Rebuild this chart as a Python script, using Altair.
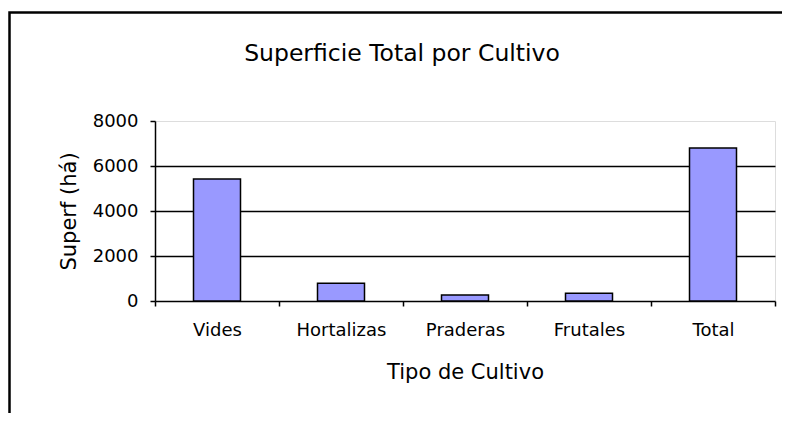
import altair as alt
import pandas as pd

categories = ["Vides", "Hortalizas", "Praderas", "Frutales", "Total"]
values = [5420, 790, 270, 340, 6800]
y_ticks = [0, 2000, 4000, 6000, 8000]

df = pd.DataFrame({"cultivo": categories, "superf": values})

FONT = "DejaVu Sans"

bars = alt.Chart(df).mark_bar(
    size=47, color="#9999ff", stroke="black", strokeWidth=1.5
).encode(
    x=alt.X(
        "cultivo:N",
        sort=categories,
        scale=alt.Scale(paddingInner=0, paddingOuter=0),
        axis=alt.Axis(
            title="Tipo de Cultivo",
            labelAngle=0,
            tickBand="extent",
            tickSize=5,
            tickColor="black",
            domainColor="black",
            domainWidth=1.5,
            tickWidth=1.5,
            labelFont=FONT,
            labelFontSize=18,
            labelColor="black",
            labelPadding=15,
            titleFont=FONT,
            titleFontSize=21,
            titleFontWeight="normal",
            titleColor="black",
            titlePadding=22,
            grid=False,
        ),
    ),
    y=alt.Y(
        "superf:Q",
        scale=alt.Scale(domain=[0, 8000], nice=False),
        axis=alt.Axis(
            title="Superf (há)",
            values=y_ticks,
            format="d",
            tickSize=5,
            tickColor="black",
            tickWidth=1.5,
            domainColor="black",
            domainWidth=1.5,
            labelFont=FONT,
            labelFontSize=18,
            labelColor="black",
            labelPadding=12,
            titleFont=FONT,
            titleFontSize=21,
            titleFontWeight="normal",
            titleColor="black",
            titlePadding=13,
            grid=True,
            gridColor="black",
            gridWidth=1.5,
            gridOpacity={"condition": {"test": "datum.value === 8000 || datum.value === 0", "value": 0}, "value": 1},
        ),
    ),
)

frame = alt.Chart(alt.Data(values=[{}])).mark_rect(
    fill=None, stroke="black", strokeWidth=2.5
).encode(
    x=alt.value(-145.5), x2=alt.value(900),
    y=alt.value(-108.5), y2=alt.value(600),
)

chart = alt.layer(bars, frame).properties(
    width=620,
    height=180,
    padding={"left": 147, "top": 113, "right": 7, "bottom": 112},
    autosize=alt.AutoSizeParams(type="none"),
    title=alt.TitleParams(
        "Superficie Total por Cultivo",
        font=FONT,
        fontSize=23.5,
        fontWeight="normal",
        color="black",
        dx=-63,
        offset=-54,
    ),
).configure_view(
    stroke="#a0a0a0", strokeWidth=2
).configure(background="white")

chart.save("out.html", embed_options={"renderer": "svg", "actions": False})
